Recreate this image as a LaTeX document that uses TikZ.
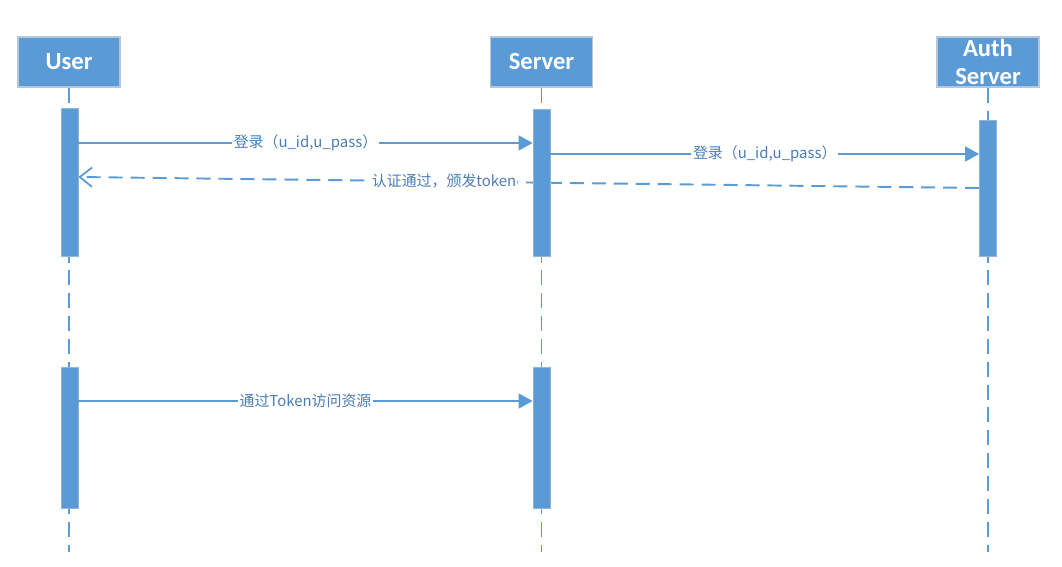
\documentclass[tikz,border=0pt]{standalone}
\usepackage{fontspec}
\setmainfont{Carlito}
\newfontfamily\cjk{Noto Sans CJK SC}
\usetikzlibrary{arrows.meta}
\definecolor{seqblue}{HTML}{5B9BD5}
\definecolor{seqedge}{HTML}{B4C7DC}
\definecolor{seqtext}{HTML}{4A7DB5}

\begin{document}
\begin{tikzpicture}[x=0.02cm,y=-0.02cm,
    head/.style={draw=seqedge,line width=0.8pt,fill=seqblue,text=white,font=\fontsize{14}{15.5}\selectfont\bfseries,
      minimum width=2.04cm,minimum height=1cm,inner sep=0pt,align=center},
    bar/.style={draw=seqedge!60!seqblue,line width=0.4pt,fill=seqblue,minimum width=0.34cm,inner sep=0pt},
    life/.style={seqblue,line width=0.8pt,dash pattern=on 8.5pt off 4.5pt},
    call/.style={seqblue,line width=0.9pt,-{Triangle[length=8pt,width=8.5pt]}},
    back/.style={seqblue,line width=1.1pt,dash pattern=on 8pt off 4.5pt,-{Straight Barb[length=7pt,width=11pt,line width=1pt]}},
    msg/.style={fill=white,inner sep=1pt,text=seqtext,font=\fontsize{8.5}{10}\selectfont}]
  \useasboundingbox (0,0) rectangle (1062,567);
  % lifeline heads
  \node[head] (user) at (69,62) {User};
  \node[head] (server) at (541.5,62) {Server};
  \node[head] (auth) at (988,62) {Auth\\Server};
  \coordinate (userend) at (69,552);
  \coordinate (serverend) at (541.5,552);
  \coordinate (authend) at (988,552);
  \draw[life] (user) -- (userend);
  \draw[life] (server) -- (serverend);
  \draw[life] (auth) -- (authend);
  % activations
  \node[bar,minimum height=2.96cm] (u1) at (69.5,182) {};
  \node[bar,minimum height=2.94cm] (s1) at (541.5,182.5) {};
  \node[bar,minimum height=2.72cm] (a1) at (988,188) {};
  \node[bar,minimum height=2.82cm] (u2) at (69.5,437.5) {};
  \node[bar,minimum height=2.82cm] (s2) at (541.5,437.5) {};
  % messages
  \draw[back] (a1.west |- 0,188) -- node[msg,pos=0.594,inner xsep=0.3pt]{\cjk{认证通过，颁发}token} (u1.east |- 0,177);
  \node[bar,minimum height=2.94cm] at (s1) {};
  \draw[call] (u1.east |- 0,143) -- node[msg]{\cjk{登录（}u\_id,u\_pass\cjk{）}} (s1.west |- 0,143);
  \draw[call] (s1.east |- 0,154) -- node[msg]{\cjk{登录（}u\_id,u\_pass\cjk{）}} (a1.west |- 0,154);
  \draw[call] (u2.east |- 0,401) -- node[msg]{\cjk{通过}Token\cjk{访问资源}} (s2.west |- 0,401);
\end{tikzpicture}
\end{document}
